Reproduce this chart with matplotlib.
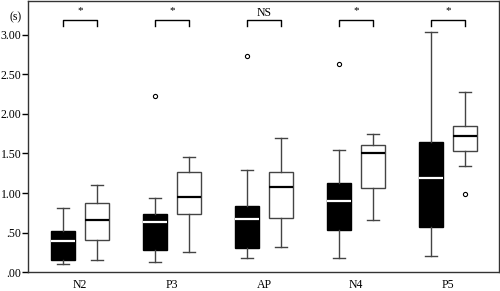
import matplotlib
matplotlib.use("Agg")
import matplotlib.pyplot as plt

plt.rcParams['font.family'] = ['Liberation Serif', 'DejaVu Serif']

categories = ["N2", "P3", "AP", "N4", "P5"]
signif = ["*", "*", "NS", "*", "*"]

# five-number summaries: whislo, q1, med, q3, whishi
black_stats = [
    [0.10, 0.15, 0.40, 0.52, 0.81],
    [0.13, 0.28, 0.64, 0.73, 0.94],
    [0.18, 0.31, 0.67, 0.84, 1.29],
    [0.18, 0.53, 0.90, 1.13, 1.54],
    [0.21, 0.57, 1.19, 1.65, 3.03],
]
black_fliers = [[], [2.23], [2.73], [2.63], []]

white_stats = [
    [0.15, 0.41, 0.66, 0.87, 1.10],
    [0.25, 0.74, 0.95, 1.26, 1.45],
    [0.32, 0.68, 1.08, 1.27, 1.69],
    [0.66, 1.07, 1.51, 1.61, 1.75],
    [1.34, 1.53, 1.72, 1.85, 2.28],
]
white_fliers = [[], [], [], [], [0.99]]

yticks = [0, 0.5, 1.0, 1.5, 2.0, 2.5, 3.0]
yticklabels = [".00", ".50", "1.00", "1.50", "2.00", "2.50", "3.00"]


def make_stats(stats, fliers):
    out = []
    for s, f in zip(stats, fliers):
        out.append(dict(whislo=s[0], q1=s[1], med=s[2], q3=s[3], whishi=s[4], fliers=f))
    return out


fig = plt.figure(figsize=(5.0, 2.91), dpi=100)
ax = fig.add_axes([28.3 / 500, 1 - 272.3 / 291, 470.4 / 500, 271.3 / 291])

off = 0.185
width = 0.255
grey = "#444444"
pos = list(range(len(categories)))

ax.bxp(make_stats(black_stats, black_fliers), positions=[p - off for p in pos],
       widths=width, patch_artist=True, manage_ticks=False,
       boxprops=dict(facecolor="black", edgecolor="black", linewidth=1),
       medianprops=dict(color="white", linewidth=1.6),
       whiskerprops=dict(color=grey, linewidth=1),
       capprops=dict(color=grey, linewidth=1),
       flierprops=dict(marker="o", markersize=3, markerfacecolor="white",
                       markeredgecolor="black", markeredgewidth=0.8))

ax.bxp(make_stats(white_stats, white_fliers), positions=[p + off for p in pos],
       widths=width, patch_artist=True, manage_ticks=False,
       boxprops=dict(facecolor="white", edgecolor=grey, linewidth=1),
       medianprops=dict(color="black", linewidth=1.6),
       whiskerprops=dict(color=grey, linewidth=1),
       capprops=dict(color=grey, linewidth=1),
       flierprops=dict(marker="o", markersize=3, markerfacecolor="white",
                       markeredgecolor="black", markeredgewidth=0.8))

# significance brackets
for p, s in zip(pos, signif):
    x0, x1 = p - off, p + off
    ax.plot([x0, x0, x1, x1], [3.11, 3.186, 3.186, 3.11], color="black", linewidth=1)
    if s == "*":
        ax.text(p, 3.30, s, ha="center", va="center", fontsize=8)
    else:
        ax.text(p, 3.27, s, ha="center", va="center", fontsize=8.5)

ax.set_xlim(-0.564, 4.549)
ax.set_ylim(0, 3.425)
ax.set_xticks(pos)
ax.set_xticklabels(categories, fontsize=8.5)
ax.tick_params(axis="x", length=0, pad=5)
ax.set_yticks(yticks)
ax.set_yticklabels(yticklabels, fontsize=8.5)
ax.tick_params(axis="y", length=4, width=1, pad=1)
ax.text(-0.70, 3.22, "(s)", ha="center", va="center", fontsize=8.5, clip_on=False)
for sp in ax.spines.values():
    sp.set_color("#333333")
    sp.set_linewidth(1)

fig.savefig("out.png", dpi=100)
